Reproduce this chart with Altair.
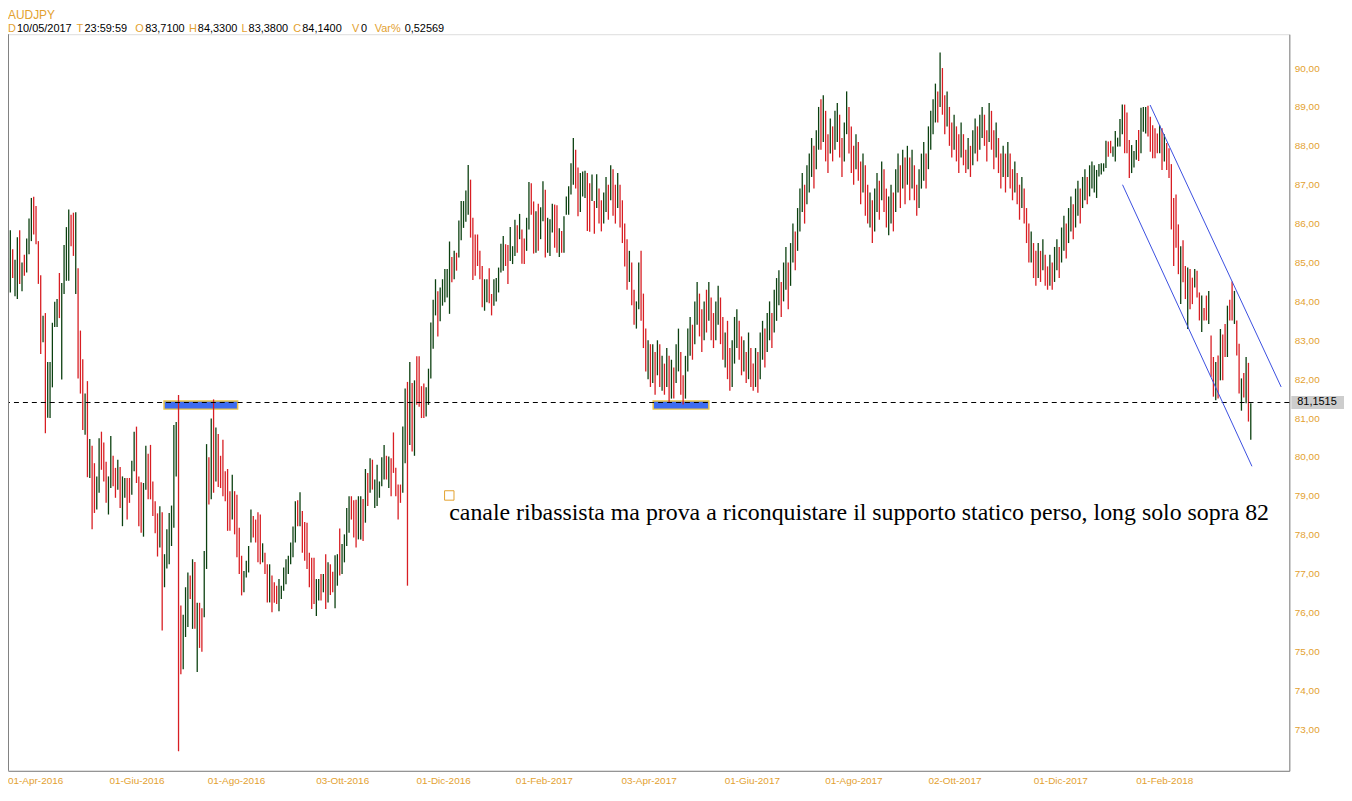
import altair as alt
import pandas as pd

# ---------------- data ----------------
SYMBOL = "AUDJPY"
HEADER = [("D", "10/05/2017"), ("T", "23:59:59"), ("O", "83,7100"), ("H", "84,3300"),
          ("L", "83,3800"), ("C", "84,1400"), ("V", "0"), ("Var%", "0,52569")]

HIGH = [
    85.11, 85.83, 85.34, 85.07, 85.65, 85.83, 85.00, 85.20, 85.62, 86.13,
    86.66, 86.69, 86.45, 85.55, 84.67, 83.63, 83.70, 82.44, 82.44, 83.45,
    83.99, 84.06, 84.73, 84.47, 85.45, 85.91, 86.36, 86.23, 86.28, 86.29,
    84.85, 83.25, 82.51, 81.63, 81.95, 80.46, 80.29, 79.84, 79.50, 80.48,
    80.65, 80.37, 79.88, 79.50, 80.54, 80.03, 79.72, 79.93, 79.74, 79.50,
    79.46, 79.46, 79.46, 79.90, 80.65, 80.78, 79.50, 79.35, 79.33, 80.29,
    80.08, 80.31, 79.37, 78.86, 78.55, 78.73, 78.58, 77.50, 78.14, 78.56,
    78.75, 80.82, 80.90, 81.59, 76.18, 75.94, 76.65, 77.03, 76.95, 77.37,
    77.30, 76.25, 76.25, 76.11, 77.58, 80.33, 79.99, 80.99, 81.48, 80.76,
    80.59, 80.03, 80.44, 79.63, 79.69, 79.12, 79.54, 79.12, 79.03, 78.18,
    77.46, 77.07, 77.33, 77.71, 78.65, 78.48, 78.39, 78.58, 78.52, 77.78,
    77.54, 77.24, 77.24, 76.95, 76.78, 76.69, 76.86, 76.69, 77.16, 77.37,
    77.46, 77.80, 78.21, 78.86, 78.89, 79.09, 78.61, 78.33, 78.31, 77.54,
    77.41, 77.41, 76.86, 76.86, 76.99, 76.99, 77.50, 77.29, 77.24, 77.05,
    77.47, 77.50, 78.16, 77.76, 78.01, 78.69, 78.99, 78.99, 78.89, 78.90,
    78.99, 78.99, 78.92, 79.69, 79.59, 79.97, 79.93, 79.42, 79.80, 79.37,
    79.99, 80.31, 80.03, 80.01, 79.97, 80.63, 79.72, 79.29, 79.29, 80.78,
    81.76, 81.93, 82.44, 81.90, 81.97, 82.59, 82.59, 81.82, 81.89, 81.79,
    82.27, 83.46, 84.04, 84.57, 84.26, 84.36, 84.57, 84.83, 84.83, 85.54,
    85.14, 85.30, 85.25, 86.08, 86.58, 86.58, 86.85, 87.51, 87.13, 86.15,
    85.72, 85.72, 85.30, 84.91, 84.57, 84.57, 84.85, 84.19, 84.57, 84.60,
    84.87, 85.48, 85.68, 85.47, 85.45, 85.91, 85.42, 86.10, 85.96, 86.25,
    85.85, 85.62, 86.15, 87.07, 87.04, 86.57, 86.32, 86.51, 86.42, 87.09,
    86.87, 86.15, 86.11, 86.51, 86.49, 86.47, 85.88, 85.81, 86.19, 86.70,
    86.96, 87.55, 88.20, 87.90, 87.44, 87.30, 87.34, 87.36, 87.30, 87.04,
    87.26, 86.58, 87.27, 86.90, 86.60, 86.80, 87.20, 87.00, 87.50, 87.40,
    87.00, 87.30, 87.00, 86.60, 86.00, 85.60, 85.30, 85.00, 84.30, 84.00,
    85.00, 85.30, 84.20, 83.30, 83.00, 82.90, 82.90, 82.70, 83.00, 82.90,
    82.60, 82.40, 82.80, 82.60, 82.50, 82.30, 82.90, 83.30, 82.70, 82.10,
    82.60, 83.30, 83.60, 83.40, 84.00, 84.50, 84.20, 83.80, 84.00, 84.30,
    84.50, 84.10, 83.70, 84.00, 84.40, 84.10, 83.60, 83.20, 83.50, 82.80,
    83.00, 83.60, 83.80, 83.50, 83.10, 83.00, 82.70, 83.20, 82.80, 82.40,
    82.80, 82.70, 83.20, 83.50, 83.30, 83.70, 84.00, 83.70, 84.30, 84.60,
    84.80, 84.50, 85.00, 85.40, 85.00, 85.50, 86.00, 85.80, 86.40, 86.90,
    87.30, 87.00, 87.50, 87.80, 88.20, 88.00, 88.40, 89.00, 89.20, 89.30,
    88.90, 88.30, 88.70, 88.50, 88.90, 89.10, 88.80, 88.20, 88.60, 89.40,
    89.00, 88.50, 88.00, 88.30, 88.10, 87.60, 87.80, 87.50, 87.00, 86.80,
    86.60, 86.90, 87.30, 87.10, 87.60, 87.40, 86.90, 86.70, 87.00, 86.80,
    87.40, 87.80, 87.50, 87.90, 87.70, 88.00, 87.70, 87.90, 87.50, 87.00,
    87.40, 87.80, 88.10, 87.80, 88.50, 88.90, 89.20, 89.60, 89.40, 90.40,
    90.00, 89.30, 89.40, 89.00, 88.60, 88.80, 88.50, 88.30, 88.60, 88.30,
    87.90, 88.20, 88.00, 88.40, 88.70, 88.50, 88.80, 89.00, 88.80, 88.40,
    89.10, 88.90, 88.40, 88.60, 88.20, 87.80, 88.00, 87.80, 88.10, 87.80,
    87.40, 87.60, 87.30, 87.00, 87.20, 86.90, 86.40, 86.00, 85.80, 85.50,
    85.30, 85.50, 85.30, 85.60, 85.20, 84.90, 85.20, 85.00, 85.40, 85.60,
    85.40, 85.90, 86.20, 86.00, 86.40, 86.70, 86.50, 86.90, 87.10, 86.90,
    87.20, 87.40, 87.20, 87.50, 87.60, 87.50, 87.38, 87.53, 87.55, 87.55,
    88.13, 88.11, 88.13, 87.98, 88.38, 88.21, 88.69, 89.06, 89.06, 88.86,
    88.15, 88.02, 87.87, 88.15, 88.41, 88.98, 89.00, 89.00, 89.03, 88.75,
    88.53, 88.45, 88.32, 88.53, 88.45, 88.30, 88.07, 87.94, 87.53, 86.66,
    86.75, 85.98, 85.42, 85.57, 84.91, 84.87, 84.83, 84.61, 84.83, 84.79,
    84.23, 84.15, 83.83, 84.15, 84.27, 83.12, 82.57, 82.44, 82.61, 83.29,
    83.15, 83.42, 83.89, 84.04, 84.51, 84.27, 83.51, 82.91, 82.02, 82.16,
    82.57, 82.42, 81.38,
]

LOW = [
    84.21, 84.23, 84.60, 84.13, 84.06, 84.45, 84.26, 84.66, 84.74, 85.21,
    85.55, 85.72, 85.47, 84.45, 82.65, 82.95, 80.61, 81.01, 81.00, 81.79,
    83.34, 83.34, 83.57, 81.99, 84.19, 84.53, 84.53, 85.42, 85.17, 84.19,
    82.02, 81.63, 80.69, 80.57, 79.48, 79.46, 78.14, 78.56, 78.65, 79.08,
    79.67, 79.37, 78.82, 78.52, 79.20, 79.25, 78.95, 79.16, 78.69, 78.22,
    78.95, 78.39, 78.82, 79.03, 79.63, 79.33, 78.22, 78.05, 77.95, 79.16,
    78.91, 78.91, 78.48, 78.04, 77.44, 77.67, 75.54, 76.65, 77.13, 77.24,
    77.71, 78.18, 79.50, 72.43, 74.41, 74.54, 75.37, 75.63, 76.35, 75.58,
    75.58, 74.47, 75.09, 74.99, 75.88, 77.12, 78.78, 78.91, 79.08, 79.37,
    79.23, 79.20, 78.99, 78.86, 78.10, 78.10, 78.39, 78.01, 77.42, 76.99,
    76.44, 76.52, 76.90, 77.03, 77.80, 77.93, 77.80, 77.29, 77.24, 77.29,
    76.99, 76.26, 76.26, 76.01, 76.25, 76.22, 76.03, 76.35, 76.56, 76.73,
    76.99, 77.24, 77.42, 77.80, 78.22, 78.22, 77.54, 77.33, 77.12, 76.65,
    76.09, 76.22, 75.91, 76.31, 76.31, 76.52, 76.09, 76.26, 76.45, 76.52,
    76.11, 76.69, 76.95, 76.99, 77.29, 77.71, 78.05, 78.39, 77.93, 77.67,
    77.88, 77.88, 77.84, 78.31, 78.74, 79.08, 79.16, 78.69, 78.74, 78.95,
    79.25, 79.42, 79.42, 79.20, 78.99, 79.59, 78.99, 78.39, 78.82, 79.08,
    79.84, 76.69, 80.31, 80.14, 80.03, 81.34, 81.29, 81.00, 81.00, 81.04,
    81.34, 82.02, 82.78, 83.64, 83.10, 83.49, 83.89, 83.98, 84.10, 83.68,
    84.49, 84.57, 84.79, 85.13, 85.57, 85.89, 86.05, 86.23, 85.64, 84.55,
    84.66, 84.91, 84.57, 83.85, 83.76, 83.98, 83.95, 83.64, 83.89, 84.00,
    84.23, 84.74, 84.79, 84.91, 84.45, 85.04, 84.96, 85.17, 85.25, 85.60,
    84.97, 84.96, 85.30, 85.85, 86.23, 85.23, 85.25, 85.30, 85.60, 86.06,
    85.13, 85.25, 85.17, 85.77, 85.38, 85.25, 85.14, 85.25, 85.25, 86.23,
    86.23, 86.75, 87.00, 86.90, 86.19, 86.30, 86.70, 86.66, 85.81, 85.79,
    86.58, 85.74, 86.40, 86.00, 85.80, 86.00, 86.30, 86.10, 86.60, 86.20,
    86.00, 86.40, 85.90, 85.50, 84.90, 84.30, 84.50, 83.90, 83.40, 83.30,
    83.80, 83.50, 82.80, 82.20, 82.00, 81.80, 81.90, 81.60, 82.10, 81.80,
    81.70, 81.60, 81.80, 81.40, 81.50, 81.50, 81.90, 82.20, 81.60, 81.35,
    81.50, 82.20, 82.60, 82.50, 82.90, 83.40, 83.10, 82.70, 83.00, 83.20,
    83.50, 83.00, 82.80, 83.00, 83.40, 82.90, 82.50, 82.30, 82.00, 81.70,
    81.80, 82.40, 82.80, 82.50, 82.10, 82.20, 81.90, 82.00, 81.80, 81.70,
    81.80, 81.65, 82.00, 82.50, 82.30, 82.70, 83.00, 82.80, 83.20, 83.50,
    83.90, 83.60, 84.00, 84.30, 83.80, 84.40, 85.00, 84.80, 85.30, 85.80,
    86.30, 86.00, 86.50, 86.80, 87.20, 86.90, 87.40, 87.90, 87.90, 88.10,
    87.60, 87.30, 87.80, 87.60, 87.90, 88.10, 87.70, 87.20, 87.60, 88.30,
    87.80, 87.30, 87.00, 87.40, 87.10, 86.50, 86.80, 86.20, 86.00, 85.90,
    85.50, 85.80, 86.30, 86.10, 86.60, 86.30, 85.90, 85.70, 86.00, 85.80,
    86.30, 86.80, 86.40, 86.90, 86.50, 87.00, 86.60, 86.90, 86.60, 86.20,
    86.40, 86.90, 87.10, 86.90, 87.40, 87.90, 88.30, 88.60, 88.60, 89.00,
    88.80, 88.30, 88.50, 88.00, 87.70, 87.90, 87.60, 87.30, 87.70, 87.50,
    87.30, 87.40, 87.20, 87.50, 87.80, 87.60, 87.90, 88.20, 88.00, 87.60,
    88.10, 87.90, 87.40, 87.70, 87.30, 86.90, 87.20, 86.80, 87.20, 86.90,
    86.60, 86.80, 86.50, 86.10, 86.40, 86.00, 85.50, 85.00, 85.00, 84.60,
    84.40, 84.60, 84.50, 84.80, 84.40, 84.30, 84.40, 84.30, 84.50, 84.80,
    84.60, 85.00, 85.30, 85.10, 85.50, 85.80, 85.60, 85.90, 86.20, 86.00,
    86.40, 86.60, 86.50, 86.70, 86.90, 86.80, 86.66, 87.21, 87.26, 87.34,
    87.43, 87.72, 87.81, 87.72, 87.60, 87.98, 87.98, 88.30, 87.81, 87.81,
    87.17, 87.30, 87.44, 87.64, 87.61, 87.81, 88.36, 88.32, 88.24, 87.85,
    87.68, 87.68, 87.81, 87.81, 87.38, 87.60, 87.38, 87.17, 85.85, 84.91,
    85.38, 84.70, 83.93, 84.49, 84.06, 83.29, 83.80, 83.93, 84.36, 84.10,
    83.51, 83.21, 83.51, 83.51, 83.42, 82.06, 81.55, 81.46, 81.50, 81.97,
    81.97, 82.57, 82.57, 83.51, 83.51, 83.42, 82.61, 81.63, 81.19, 81.53,
    81.38, 80.91, 80.44,
]

# u = up bar (dark green), d = down bar (red)
DIR_TEXT = """
u u d u u d u d u u
u d d d d u d u u u
u u d u u u u d d u
d d d u d u d d u u
d d d u u d d u d u
u d d u u d d d u u
d d d d d u d u u u
u u u d d u u u d u
d u d d u u d u d u
d d d d d d u d d d
d u u u u d d d d u
d d u d d d u u u u
u u u u d u d d d d
d d u u d u d u d d
u u d u u u u d d d
u u d u d u d u u u
u u d u d d d d d u
u d u d u d d d d u
u u u u d u u u u u
d u d u u u u u d d
d d d d u u d d u u
u u u d d u u u d u
d d u u d d u d u u
d u u u d d u d u u
u u u d d u u u d d
u d u d d u u d u d
d u d d d d u d d u
u d d d u d u d u d
u d u d u d u u d d
u u u d u u d d u d
u d d u u d d u d d
u u u d d u d u d d
u d u u d u u d u u
u d u u d u u d u u
u d u u u d u u d u
d d u d u u d d u u
d d d u d d u d d u
d u u d u d d u u d
u u d u d u d u d d
u u u d u u u u d u
d d u d d u d d u d
d u d u u d u u d d
u d d u d d u d u d
d u d d u d d d u d
d u d u d d u d u u
d u u d u u d u u d
u u d u u u u u u u
u d d u u u u u d d
d u u u d u u u d d
d d d u d u d d d d
d d u d d u d d u d
d u d d u d d u d u
d d u d d u d d u d
u d u
"""
DIR = DIR_TEXT.split()

# x-axis date labels and the bar they sit on
XTICK_LABEL = ["01-Apr-2016", "01-Giu-2016", "01-Ago-2016", "03-Ott-2016", "01-Dic-2016",
               "01-Feb-2017", "03-Apr-2017", "01-Giu-2017", "01-Ago-2017", "02-Ott-2017",
               "01-Dic-2017", "01-Feb-2018"]
XTICK_BAR = [0, 43.4, 85.5, 131.9, 174.9, 217.4, 262.6, 306.8, 349.8, 394.0, 439.1, 483.0]

Y_TICKS = list(range(73, 91))

SUPPORT_LEVEL = 81.40
LAST_PRICE_TEXT = "81,1515"
# support boxes: bar start, bar end, price top, price bottom
BOX_START = [66.8, 276.2]
BOX_END = [98.3, 300.0]
BOX_TOP = [81.44, 81.44]
BOX_BOTTOM = [81.23, 81.23]
# falling channel: start bar, start price, end bar, end price
CH_X1 = [488.9, 477.1]
CH_Y1 = [89.05, 87.00]
CH_X2 = [545.0, 532.5]
CH_Y2 = [81.80, 79.76]

NOTE = "canale ribassista ma prova a riconquistare il supporto statico perso, long solo sopra 82"
NOTE_BAR, NOTE_PRICE = 188.9, 78.39
MARK_BAR, MARK_PRICE = 188.9, 79.01

# ---------------- styling ----------------
ORANGE = "#E3A12F"
RED = "#D81E23"
GREEN = "#0B4010"
FRAME = "#808080"
BLUE_LINE = "#3A4FE0"
W, H = 1289, 741

n = min(len(HIGH), len(LOW), len(DIR))
bars = pd.DataFrame({"i": list(range(n)), "high": HIGH[:n], "low": LOW[:n], "dir": DIR[:n]})

XS = alt.Scale(domain=[0, 548.5], nice=False, zero=False)
YS = alt.Scale(domain=[71.93, 90.87], nice=False, zero=False)
X_AXIS = alt.Axis(labels=False, ticks=False, grid=False, domainColor=FRAME, title=None)
Y_AXIS = alt.Axis(orient="right", values=Y_TICKS, grid=False, ticks=False, tickSize=0,
                  labelExpr="replace(format(datum.value, '.2f'), '.', ',')",
                  labelColor=ORANGE, labelFont="Liberation Sans", labelFontSize=10,
                  labelPadding=5, labelAlign="left", labelBaseline="middle",
                  domainColor=FRAME, title=None)

one = alt.Data(values=[{}])

boxes = alt.Chart(pd.DataFrame({"x1": BOX_START, "x2": BOX_END, "y1": BOX_TOP, "y2": BOX_BOTTOM})).mark_rect(
    fill="#3D6CF0", stroke="#E8C34A", strokeWidth=1.5
).encode(
    x=alt.X("x1:Q", scale=XS, axis=X_AXIS), x2="x2:Q",
    y=alt.Y("y1:Q", scale=YS, axis=Y_AXIS), y2="y2:Q",
)

bar_layer = alt.Chart(bars).mark_rule(strokeWidth=1.3).encode(
    x=alt.X("i:Q", scale=XS, axis=X_AXIS),
    y=alt.Y("low:Q", scale=YS, axis=Y_AXIS),
    y2="high:Q",
    color=alt.Color("dir:N", scale=alt.Scale(domain=["u", "d"], range=[GREEN, RED]), legend=None),
)

support = alt.Chart(one).mark_rule(color="black", strokeWidth=1, strokeDash=[5, 4]).encode(
    y=alt.Y(datum=SUPPORT_LEVEL, scale=YS, axis=Y_AXIS)
)

channel = alt.Chart(pd.DataFrame({"x1": CH_X1, "y1": CH_Y1, "x2": CH_X2, "y2": CH_Y2})).mark_rule(
    color=BLUE_LINE, strokeWidth=1
).encode(
    x=alt.X("x1:Q", scale=XS, axis=X_AXIS), x2="x2:Q",
    y=alt.Y("y1:Q", scale=YS, axis=Y_AXIS), y2="y2:Q",
)

marker = alt.Chart(one).mark_point(shape="square", filled=False, size=90, color=ORANGE, strokeWidth=1, opacity=1).encode(
    x=alt.X(datum=MARK_BAR, scale=XS, axis=X_AXIS),
    y=alt.Y(datum=MARK_PRICE, scale=YS, axis=Y_AXIS),
)

note = alt.Chart(one).mark_text(text=NOTE, align="left", baseline="alphabetic",
                                font="Liberation Serif", fontSize=24, color="black").encode(
    x=alt.X(datum=NOTE_BAR, scale=XS, axis=X_AXIS),
    y=alt.Y(datum=NOTE_PRICE, scale=YS, axis=Y_AXIS),
)

price_box = alt.Chart(one).mark_rect(color="#CDCDCD").encode(
    x=alt.value(W + 2), x2=alt.value(W + 56),
    y=alt.Y(datum=SUPPORT_LEVEL + 0.17, scale=YS, axis=Y_AXIS), y2=alt.datum(SUPPORT_LEVEL - 0.17),
)
price_text = alt.Chart(one).mark_text(text=LAST_PRICE_TEXT, align="left", baseline="middle",
                                      font="Liberation Sans", fontSize=11, color="black").encode(
    x=alt.value(W + 8),
    y=alt.Y(datum=SUPPORT_LEVEL, scale=YS, axis=Y_AXIS),
)

xlabels = alt.Chart(pd.DataFrame({"bar": XTICK_BAR, "label": XTICK_LABEL})).mark_text(
    align="left", baseline="middle", font="Liberation Sans", fontSize=10, color=ORANGE
).encode(
    x=alt.X("bar:Q", scale=XS, axis=X_AXIS),
    y=alt.value(H + 10),
    text="label:N",
)

left_frame = alt.Chart(one).mark_rule(color=FRAME, strokeWidth=1).encode(
    x=alt.value(0.5), y=alt.value(0), y2=alt.value(H)
)

header_layers = [
    alt.Chart(one).mark_text(text=SYMBOL, align="left", baseline="alphabetic", font="Liberation Sans",
                             fontSize=12, color=ORANGE).encode(x=alt.value(0), y=alt.value(-15))
]
# x of each key and of its value, in header order
KEY_X = [0, 69, 128, 182, 235, 287, 346, 369]
VAL_X = [9, 77, 138, 191, 242, 296, 355, 399]
for k, (key, val) in enumerate(HEADER):
    header_layers.append(
        alt.Chart(one).mark_text(text=key, align="left", baseline="middle", font="Liberation Sans",
                                 fontSize=11, color=ORANGE).encode(x=alt.value(KEY_X[k]), y=alt.value(-5)))
    header_layers.append(
        alt.Chart(one).mark_text(text=val, align="left", baseline="middle", font="Liberation Sans",
                                 fontSize=11, color="black").encode(x=alt.value(VAL_X[k]), y=alt.value(-5)))

chart = alt.layer(
    boxes, bar_layer, support, channel, marker, note, price_box, price_text, xlabels, left_frame,
    *header_layers
).properties(
    width=W, height=H,
    padding={"left": 0, "top": 24, "right": 55, "bottom": 28},
    autosize=alt.AutoSizeParams(type="none"),
).configure_view(stroke=None).configure(background="white")

chart.save("out.html", embed_options={"renderer": "svg", "actions": False})
